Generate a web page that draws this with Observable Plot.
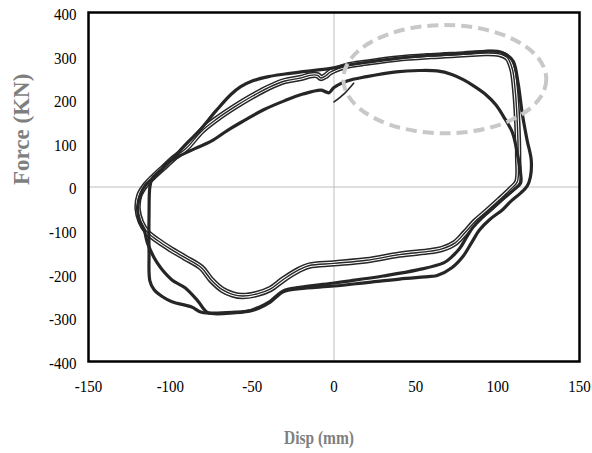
<!DOCTYPE html>
<html><head><meta charset="utf-8">
<script src="https://cdn.jsdelivr.net/npm/d3@7"></script>
<script src="https://cdn.jsdelivr.net/npm/@observablehq/plot@0.6"></script>
<style>body{margin:0;background:#fff}</style>
</head><body><div id="chart"></div>
<script>
// Tick values
const xTicks = [-150, -100, -50, 0, 50, 100, 150];
const yTicks = [-400, -300, -200, -100, 0, 100, 200, 300, 400];

// Hysteresis cycles: [displacement (mm), force (kN)]
// Outer thick cycle (upper top branch, right reversal near 120 mm, left via -120 mm)
const loopA = [
  [-106, 38], [-100, 60], [-90, 100], [-82, 130], [-72, 175], [-63, 212], [-57, 230], [-50, 243],
  [-40, 253], [-30, 259], [-20, 264], [-2, 272], [8, 279], [20, 286], [38, 295], [59, 302],
  [79, 306], [93, 311], [100, 311], [105, 304], [109.5, 288], [112.5, 238], [115, 169], [118, 107],
  [120.5, 62], [120, 23], [118, 2], [114, -14], [108, -33], [103, -52], [95, -75], [89, -98],
  [84, -128], [79, -158], [72, -185], [63, -203], [59, -205], [40, -211], [20, -219], [0, -227],
  [-21, -233], [-31, -240], [-39, -264], [-46, -278], [-51, -284], [-60, -288], [-77, -288],
  [-83, -262], [-91, -231], [-99, -213], [-108, -174], [-114, -128], [-116, -98], [-119, -75],
  [-120, -45], [-118, -15], [-115, 5], [-110, 22], [-106, 38]
];
// Thick cycle with the lower top branch (peak ~267 kN) and the vertical left reversal at -112 mm
const loopB = [
  [-105, 40], [-102, 55], [-95, 70], [-85, 88], [-75, 105], [-65, 130], [-55, 152], [-43, 177],
  [-30, 198], [-19, 213], [-8, 222], [-5, 218], [-3, 216], [0, 228], [8, 243], [20, 253],
  [38, 264], [52, 267], [63, 266], [72, 258], [79, 246], [86, 230], [93, 211], [99, 188],
  [103.5, 162], [109, 125], [112, 77], [114, 32], [114, 9], [110, -6], [104, -25], [97, -48],
  [90, -72], [85, -92], [81, -115], [77, -140], [72, -160], [67, -174], [51, -190], [30, -204],
  [10, -215], [0, -220], [-21, -230], [-31, -238], [-39, -262], [-46, -276], [-51, -283],
  [-60, -287], [-81, -287], [-87, -275], [-99, -263], [-105, -251], [-110, -235], [-112.5, -215],
  [-113, -150], [-113, -60], [-112.5, 0], [-111, 20], [-105, 40]
];
// Thin triple cycles (middle top branch, inner right reversal, upper bottom branch)
const loopC = [
  [-104, 45], [-98, 66], [-90, 90], [-81, 128], [-72, 155], [-61, 183], [-50, 208], [-40, 228],
  [-30, 243], [-20, 250], [-14.7, 256], [-10, 256], [-8, 250], [-5, 255], [-2.4, 263], [8, 278],
  [20, 285], [38, 294], [59, 300], [79, 304], [93, 307], [101, 305], [106, 296], [109, 270],
  [110.7, 222], [112, 146], [112.5, 69], [112, 12], [108, -5], [101, -30], [93, -57], [86, -80],
  [80, -105], [74, -128], [66, -142], [59, -147], [40, -155], [20, -168], [0, -175], [-15, -180],
  [-21, -189], [-31, -212], [-39, -234], [-47, -245], [-56, -250], [-62, -246], [-68, -236],
  [-75, -213], [-81, -185], [-91, -162], [-100, -142], [-108, -122], [-114, -104], [-118, -80],
  [-120, -50], [-119, -20], [-115, 5], [-109, 28], [-104, 45]
];
// Initial loading segment
const startLine = [[0, 195], [6, 213], [12, 238]];

// Highlight ellipse (data units): centre and radii
const ellipseCenter = [68, 246];
const ellipseRadii = [62, 124];

const xLabel = "Disp (mm)";
const yLabel = "Force (KN)";

const ink = "#262626";
const X = d => d[0], Y = d => d[1];
const fmt = d => String(d);

function ellipseMark(index, scales) {
  const {x, y} = scales;
  const e = document.createElementNS("http://www.w3.org/2000/svg", "ellipse");
  const cx = x(ellipseCenter[0]), cy = y(ellipseCenter[1]);
  e.setAttribute("cx", cx);
  e.setAttribute("cy", cy);
  e.setAttribute("rx", Math.abs(x(ellipseCenter[0] + ellipseRadii[0]) - cx));
  e.setAttribute("ry", Math.abs(y(ellipseCenter[1] + ellipseRadii[1]) - cy));
  e.setAttribute("fill", "none");
  e.setAttribute("stroke", "#c8c8c8");
  e.setAttribute("stroke-width", 4);
  e.setAttribute("stroke-dasharray", "11,6");
  return e;
}

const lineOpts = (w, c) => ({x: X, y: Y, stroke: c, strokeWidth: w, curve: "catmull-rom", strokeLinejoin: "round", strokeLinecap: "round"});

const chart = Plot.plot({
  width: 592, height: 453,
  marginLeft: 88, marginRight: 13, marginTop: 12, marginBottom: 92,
  style: {fontFamily: "'Liberation Serif', 'Times New Roman', serif", fontSize: "17px", color: "#000", background: "#fff"},
  x: {domain: [-150, 150]},
  y: {domain: [-400, 400]},
  marks: [
    Plot.ruleX([0], {stroke: "#bfbfbf", strokeWidth: 1}),
    Plot.ruleY([0], {stroke: "#bfbfbf", strokeWidth: 1}),
    Plot.line(loopC, lineOpts(6.4, ink)),
    Plot.line(loopC, lineOpts(3.4, "#fff")),
    Plot.line(loopC, lineOpts(1.4, ink)),
    Plot.line(loopA, lineOpts(3.2, ink)),
    Plot.line(loopB, lineOpts(3.2, ink)),
    Plot.line(startLine, lineOpts(1.6, ink)),
    ellipseMark,
    Plot.frame({stroke: "#000", strokeWidth: 2.5}),
    Plot.axisX({ticks: xTicks, tickSize: 0, tickPadding: 18, tickFormat: fmt, label: null, fontSize: 17}),
    Plot.axisY({ticks: yTicks, tickSize: 0, tickPadding: 12, dy: 2, tickFormat: fmt, label: null, fontSize: 17}),
    Plot.text([yLabel], {text: d => d, frameAnchor: "left", rotate: -90, dx: -67, dy: -2, fontSize: 23, fontWeight: "bold", fill: "#7f7f7f"}),
    Plot.text([xLabel], {text: d => d, frameAnchor: "bottom", dx: -15, dy: 82, fontSize: 18, fontWeight: "bold", fill: "#7f7f7f"})
  ]
});

// Narrow the tick labels like the reference's condensed serif digits
chart.querySelectorAll('g[aria-label="x-axis tick label"] text, g[aria-label="y-axis tick label"] text').forEach(t => {
  const tr = t.getAttribute("transform");
  if (tr) t.setAttribute("transform", tr + " scale(0.88,1)");
});
chart.querySelectorAll("text").forEach(t => {
  if (t.textContent === xLabel) {
    t.setAttribute("textLength", 70);
    t.setAttribute("lengthAdjust", "spacingAndGlyphs");
  }
});
document.getElementById("chart").appendChild(chart);
</script>
</body></html>
